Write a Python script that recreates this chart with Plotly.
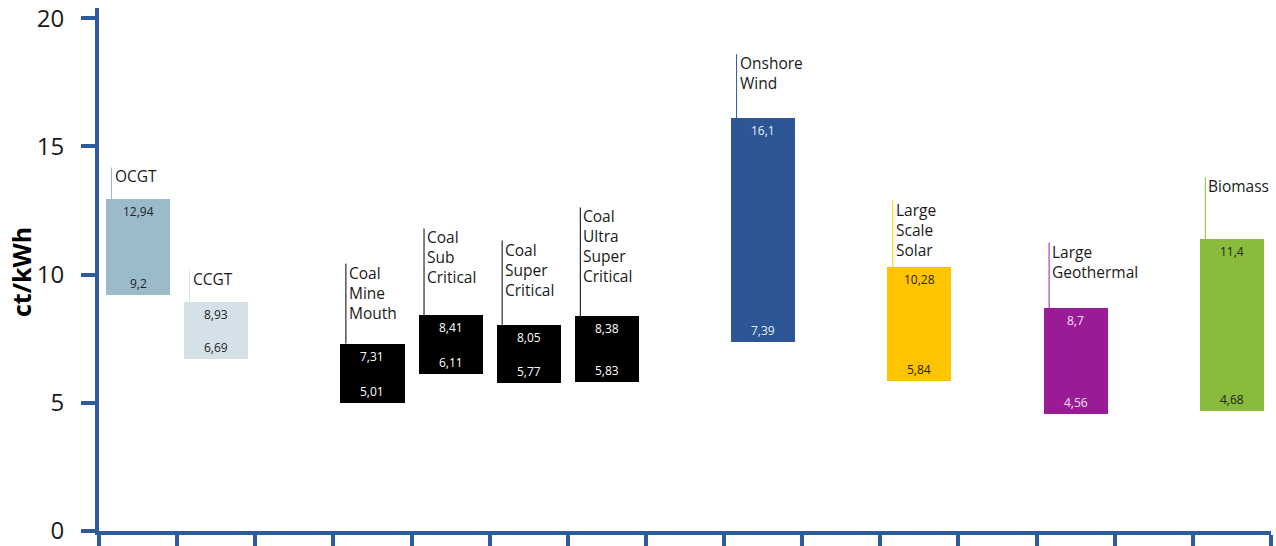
import plotly.graph_objects as go

# ---- data ----
categories = ["OCGT", "CCGT", "Coal<br>Mine<br>Mouth", "Coal<br>Sub<br>Critical",
              "Coal<br>Super<br>Critical", "Coal<br>Ultra<br>Super<br>Critical",
              "Onshore<br>Wind", "Large<br>Scale<br>Solar", "Large<br>Geothermal", "Biomass"]
slots = [0, 1, 3, 4, 5, 6, 8, 10, 12, 14]
low_values = [9.2, 6.69, 5.01, 6.11, 5.77, 5.83, 7.39, 5.84, 4.56, 4.68]
high_values = [12.94, 8.93, 7.31, 8.41, 8.05, 8.38, 16.1, 10.28, 8.7, 11.4]
y_ticks = [0, 5, 10, 15, 20]

# ---- style ----
bar_colors = ["#9BBBCB", "#D4E1E9", "#000000", "#000000", "#000000", "#000000",
              "#2D5697", "#FFC400", "#991C96", "#8ABB3C"]
value_colors = ["#222222", "#222222", "#FFFFFF", "#FFFFFF", "#FFFFFF", "#FFFFFF",
                "#E6ECF5", "#222222", "#F3E3F2", "#222222"]
label_tops = [14.18, 10.2, 10.43, 11.8, 11.33, 12.62, 18.6, 12.89, 11.25, 13.79]
axis_color = "#2E5A9E"
FONT = "Open Sans"
bar_w = 0.82

fig = go.Figure()
fig.add_trace(go.Bar(
    x=slots, y=[h - l for h, l in zip(high_values, low_values)], base=low_values,
    width=bar_w, marker=dict(color=bar_colors, line=dict(width=0)),
    hoverinfo="skip", showlegend=False))

def fmt(v):
    return ("%g" % v).replace(".", ",")

shapes = []
annotations = []
for i, s in enumerate(slots):
    lx = s - bar_w / 2 + 0.07
    shapes.append(dict(type="line", xref="x", yref="y", x0=lx, x1=lx,
                       y0=high_values[i], y1=label_tops[i],
                       line=dict(color=bar_colors[i], width=1)))
    annotations.append(dict(x=lx, y=label_tops[i], xref="x", yref="y",
                            text=categories[i], showarrow=False, xanchor="left",
                            yanchor="top", align="left", xshift=1, yshift=4,
                            font=dict(family=FONT, size=15.5, color="#1a1a1a")))
    annotations.append(dict(x=s, y=high_values[i], xref="x", yref="y",
                            text=fmt(high_values[i]), showarrow=False,
                            xanchor="center", yanchor="top", yshift=-2,
                            font=dict(family=FONT, size=12, color=value_colors[i])))
    annotations.append(dict(x=s, y=low_values[i], xref="x", yref="y",
                            text=fmt(low_values[i]), showarrow=False,
                            xanchor="center", yanchor="bottom", yshift=1,
                            font=dict(family=FONT, size=12, color=value_colors[i])))

annotations.append(dict(x=-78 / 1172, y=10.1, xref="paper", yref="y", text="<b>ct/kWh</b>",
                        showarrow=False, textangle=-90, xanchor="center", yanchor="middle",
                        font=dict(family=FONT, size=25, color="#000000")))

fig.update_layout(
    width=1276, height=546,
    margin=dict(l=99, r=5, t=8, b=15, autoexpand=False),
    plot_bgcolor="white", paper_bgcolor="white",
    shapes=shapes, annotations=annotations,
    bargap=0,
    xaxis=dict(range=[-0.5, 14.5], tickvals=[i - 0.5 for i in range(16)],
               showticklabels=False, ticks="outside", ticklen=15, tickwidth=4,
               tickcolor=axis_color, showline=True, linecolor=axis_color, linewidth=4,
               showgrid=False, zeroline=False, automargin=False),
    yaxis=dict(range=[0, 20.4], tickvals=y_ticks, ticks="outside", ticklen=14,
               tickwidth=4, tickcolor=axis_color, showline=True, linecolor=axis_color,
               linewidth=4, showgrid=False, zeroline=False, ticklabelstandoff=12,
               automargin=False, ticklabeloverflow="allow",
               tickfont=dict(family=FONT, size=24, color="#1a1a1a")),
)

fig.write_html("out.html")
